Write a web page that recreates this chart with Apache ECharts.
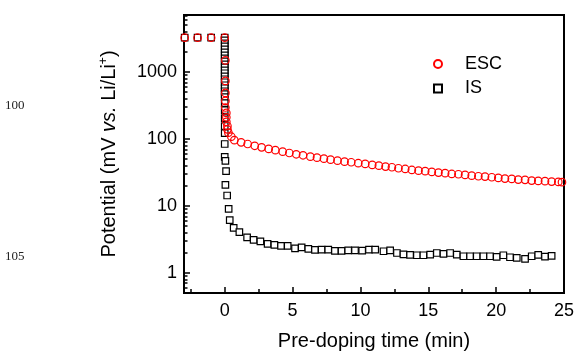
<!DOCTYPE html>
<html>
<head>
<meta charset="utf-8">
<script src="https://cdn.jsdelivr.net/npm/echarts@6/dist/echarts.min.js"></script>
<style>
html,body{margin:0;padding:0;background:#fff;}
#chart{width:576px;height:351px;}
</style>
</head>
<body>
<div id="chart"></div>
<script>
// ---- data ----
const escTime = [-2.95,-2,-1,0,
  0.05,0.05,0.05,0.05,0.05,0.12,0.12,0.12,0.2,0.2,0.27,0.49,
  0.71,1.21,1.69,2.21,2.72,3.24,3.73,4.27,4.76,5.27,5.77,6.31,6.8,7.31,7.8,8.31,8.83,9.32,9.84,
  10.35,10.87,11.36,11.85,12.32,12.8,13.3,13.79,14.28,14.77,15.26,15.75,16.24,16.73,17.22,17.71,
  18.2,18.69,19.18,19.68,20.16,20.65,21.15,21.63,22.13,22.62,23.1,23.6,24.09,24.58,24.85];
const escPotential = [3250,3250,3250,3250,
  1490,735,487,370,295,245,210,180,156,139,124,108,
  96,89,84,79,75,71,68,64.5,61.7,59,57,54.3,52.5,50.7,49,47.4,45.8,44.9,43.4,
  42.4,40.9,39.9,38.6,37.8,36.5,35.6,34.4,33.6,33.0,32.2,31.4,30.8,30.0,29.7,29.0,
  28.3,27.7,27.4,26.8,26.2,25.6,25.3,24.7,24.5,23.9,23.6,23.4,23.1,22.8,22.6];

const isTime = [-2.95,-2,-1,0,
  0,0,0,0,0,0,0,0,0,0,0,0,0,0,0,0,0,0,0,0,
  0,0,0,0,0,0,0,0.05,0.1,0.05,0.18,0.29,0.37,0.66,1.08,
  1.65,2.13,2.63,3.16,3.66,4.15,4.64,5.18,5.67,6.16,6.65,7.14,7.63,8.12,8.61,9.1,9.6,
  10.13,10.63,11.09,11.7,12.19,12.69,13.17,13.66,14.16,14.64,15.14,15.63,16.12,16.61,17.1,
  17.59,18.08,18.57,19.06,19.55,20.04,20.53,21.02,21.52,22.13,22.62,23.1,23.6,24.09];
const isPotential = [3250,3250,3250,3250,
  2965,2675,2413,2177,1964,1773,1600,1443,1302,1175,1060,957,863,779,703,634,572,516,466,420,
  342,269,205,156,122,84,54,47,33,20.6,14.3,9.05,6.15,4.68,4.07,
  3.39,3.10,2.95,2.70,2.61,2.52,2.52,2.32,2.40,2.28,2.20,2.22,2.22,2.13,2.13,2.17,2.17,
  2.15,2.22,2.22,2.10,2.17,1.98,1.89,1.85,1.83,1.83,1.87,1.98,1.92,1.98,1.87,
  1.77,1.77,1.77,1.77,1.77,1.73,1.83,1.71,1.67,1.62,1.77,1.85,1.75,1.79];

const seriesNames = ['ESC', 'IS'];
const xMajorTicks = [0, 5, 10, 15, 20, 25];
const xMinorTicks = [-2.5, 2.5, 7.5, 12.5, 17.5, 22.5];
const yMajorTicks = [1, 10, 100, 1000];
const yMinorTicks = [0.5,0.6,0.7,0.8,0.9, 2,3,4,5,6,7,8,9, 20,30,40,50,60,70,80,90,
  200,300,400,500,600,700,800,900, 2000,3000,4000,5000,6000,7000];
const xTitle = 'Pre-doping time (min)';
const lineNumbers = ['100', '105'];

// ---- chart ----
const FONT = '"Liberation Sans", Arial, sans-serif';
const zip = (a, b) => a.map((v, i) => [v, b[i]]);
const X_MIN = -3, X_MAX = 25, Y_MIN = 0.5, Y_MAX = 7100;

const chart = echarts.init(document.getElementById('chart'), null, {renderer: 'canvas'});
chart.setOption({
  animation: false,
  backgroundColor: '#fff',
  grid: {left: 184, right: 12, top: 15, bottom: 58, show: true, borderColor: '#000', borderWidth: 2,
    backgroundColor: 'transparent', outerBoundsMode: 'none', containLabel: false},
  legend: {
    data: seriesNames, orient: 'vertical', left: 428, top: 50,
    itemWidth: 8, itemHeight: 8, itemGap: 6.5,
    textStyle: {fontFamily: FONT, fontSize: 18, color: '#000', padding: [0, 0, 0, 18]}
  },
  xAxis: [{
    type: 'value', min: X_MIN, max: X_MAX, position: 'bottom',
    name: xTitle, nameLocation: 'middle', nameGap: 38,
    nameTextStyle: {fontFamily: FONT, fontSize: 20, color: '#000'},
    axisLine: {show: true, onZero: false, lineStyle: {color: '#000', width: 2}},
    axisTick: {show: true, inside: true, length: 6, customValues: xMajorTicks, lineStyle: {color: '#000', width: 1.5}},
    axisLabel: {customValues: xMajorTicks, fontFamily: FONT, fontSize: 18, color: '#000', margin: 9},
    splitLine: {show: false}
  }, {
    type: 'value', min: X_MIN, max: X_MAX, position: 'bottom', offset: 0,
    axisLine: {show: false, onZero: false},
    axisTick: {show: true, inside: true, length: 4, customValues: xMinorTicks, lineStyle: {color: '#000', width: 1.5}},
    axisLabel: {show: false},
    splitLine: {show: false}
  }],
  yAxis: [{
    type: 'log', logBase: 10, min: Y_MIN, max: Y_MAX, position: 'left',
    name: '{n|Potential (mV }{i|vs.}{n| Li/Li}{s|+}{n|)}',
    nameLocation: 'middle', nameGap: 64,
    nameTextStyle: {
      fontFamily: FONT, fontSize: 20, color: '#000',
      rich: {
        n: {fontFamily: FONT, fontSize: 20, color: '#000', lineHeight: 22},
        i: {fontFamily: FONT, fontSize: 20, fontStyle: 'italic', color: '#000', lineHeight: 22},
        s: {fontFamily: FONT, fontSize: 12, color: '#000', verticalAlign: 'top', lineHeight: 22}
      }
    },
    axisLine: {show: true, onZero: false, lineStyle: {color: '#000', width: 2}},
    axisTick: {show: true, inside: true, length: 6, customValues: yMajorTicks, lineStyle: {color: '#000', width: 1.5}},
    axisLabel: {customValues: yMajorTicks, fontFamily: FONT, fontSize: 18, color: '#000', margin: 7,
      formatter: v => String(Math.round(v))},
    splitLine: {show: false}
  }, {
    type: 'log', logBase: 10, min: Y_MIN, max: Y_MAX, position: 'left', offset: 0,
    axisLine: {show: false, onZero: false},
    axisTick: {show: true, inside: true, length: 3.5, customValues: yMinorTicks, lineStyle: {color: '#000', width: 1.5}},
    axisLabel: {show: false},
    splitLine: {show: false}
  }],
  series: [{
    name: 'IS', type: 'scatter', xAxisIndex: 0, yAxisIndex: 0,
    symbol: 'rect', symbolSize: 6.5,
    itemStyle: {color: '#fff', borderColor: '#000', borderWidth: 1.2, opacity: 1},
    emphasis: {disabled: true},
    data: zip(isTime, isPotential), z: 2
  }, {
    name: 'ESC', type: 'scatter', xAxisIndex: 0, yAxisIndex: 0,
    symbol: 'circle', symbolSize: 7.5,
    itemStyle: {color: 'rgba(255,255,255,0)', borderColor: '#ff0000', borderWidth: 1.2, opacity: 1},
    emphasis: {disabled: true},
    data: zip(escTime, escPotential), z: 3
  }],
  graphic: [
    {type: 'text', left: 5, top: 99, style: {text: lineNumbers[0], font: '13px "Liberation Serif", serif', fill: '#222'}},
    {type: 'text', left: 5, top: 250, style: {text: lineNumbers[1], font: '13px "Liberation Serif", serif', fill: '#222'}}
  ]
});
</script>
</body>
</html>
